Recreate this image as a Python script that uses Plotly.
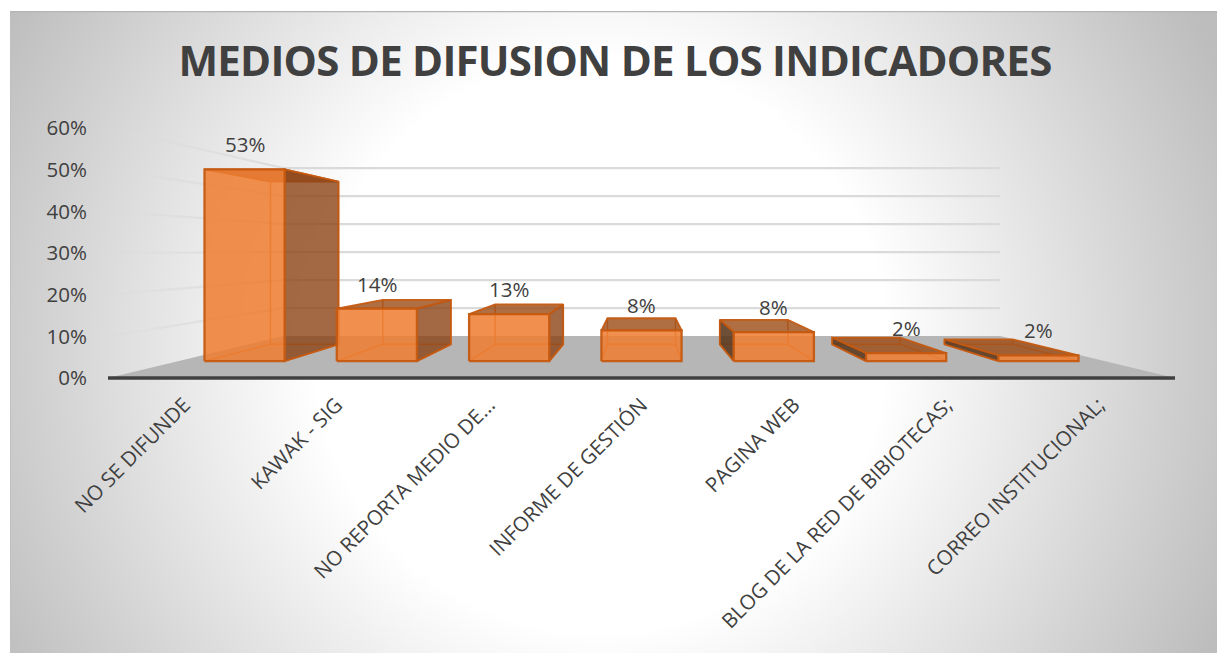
import base64
import plotly.graph_objects as go

# ---- data ----
categories = ["NO SE DIFUNDE", "KAWAK - SIG", "NO REPORTA MEDIO DE...", "INFORME DE GESTIÓN",
              "PAGINA WEB", "BLOG DE LA RED DE BIBIOTECAS;", "CORREO INSTITUCIONAL;"]
values = [0.53, 0.145, 0.13, 0.085, 0.08, 0.022, 0.016]
labels = ["53%", "14%", "13%", "8%", "8%", "2%", "2%"]
y_ticks = [0, 0.1, 0.2, 0.3, 0.4, 0.5, 0.6]
title = "MEDIOS DE DIFUSION DE LOS INDICADORES"

# ---- 3D look: perspective factors applied in axis units ----
W, H = 1217, 653
L, R, T, B = 104, 1179, 128, 383
Y_MIN = -0.012             # a little room below 0% so the floor edge is not clipped
X_PAD = 4 / 152.4          # same at both ends of the category axis
CX, CY = 3.0, 0.307        # vanishing point, in axis units
S_FRONT, S_BAR_F, S_BAR_B, S_BACK = 1.0, 0.868, 0.737, 0.672
HALF = 0.303               # half bar width, in category units
INK = "#404040"
FONT = "Open Sans"


def proj(x, v, s):
    return CX + (x - CX) * s, CY + (v - CY) * s


def poly(fig, pts, fill=None, line=None, width=2):
    xs = [p[0] for p in pts]
    ys = [p[1] for p in pts]
    if fill:
        xs.append(xs[0]); ys.append(ys[0])
    fig.add_trace(go.Scatter(
        x=xs, y=ys, mode="lines",
        fill="toself" if fill else None,
        fillcolor=fill,
        line=dict(color=line or "rgba(0,0,0,0)", width=width if line else 0),
        hoverinfo="skip", showlegend=False, cliponaxis=False))


fig = go.Figure()

# floor
poly(fig, [proj(-0.5, 0, S_FRONT), proj(6.5, 0, S_FRONT), proj(6.5, 0, S_BACK), proj(-0.5, 0, S_BACK)],
     fill="#b6b6b6")
# front floor edge (category axis line)
poly(fig, [proj(-0.5, 0, S_FRONT), proj(6.5, 0, S_FRONT)], line=INK, width=3.6)

# back wall gridlines and fading side wall gridlines
for t in y_ticks[1:]:
    poly(fig, [proj(-0.5, t, S_BACK), proj(6.5, t, S_BACK)], line="#dadada", width=2.2)
    steps = 8
    for k in range(steps):
        a = S_FRONT + (S_BACK - S_FRONT) * k / steps
        b = S_FRONT + (S_BACK - S_FRONT) * (k + 1) / steps
        poly(fig, [proj(-0.5, t, a), proj(-0.5, t, b)],
             line=f"rgba(220,220,220,{0.3 + 0.7 * (k + 1) / steps:.2f})", width=2.2)

# bars
EDGE = "rgba(197,90,17,0.95)"
INNER = "rgba(232,112,32,0.9)"
for i, v in enumerate(values):
    x0, x1 = i - HALF, i + HALF
    fbl, fbr = proj(x0, 0, S_BAR_F), proj(x1, 0, S_BAR_F)
    ftl, ftr = proj(x0, v, S_BAR_F), proj(x1, v, S_BAR_F)
    bbl, bbr = proj(x0, 0, S_BAR_B), proj(x1, 0, S_BAR_B)
    btl, btr = proj(x0, v, S_BAR_B), proj(x1, v, S_BAR_B)
    # hidden edges
    poly(fig, [fbl, bbl, bbr, fbr], line=INNER, width=1.5)
    poly(fig, [bbl, btl], line=INNER, width=1.5)
    poly(fig, [bbr, btr], line=INNER, width=1.5)
    # top face
    poly(fig, [ftl, ftr, btr, btl], fill="rgba(155,75,20,0.8)", line=EDGE, width=1.8)
    # exposed side
    if i < 3:
        poly(fig, [fbr, ftr, btr, bbr], fill="rgba(140,68,22,0.8)", line=EDGE, width=1.8)
    elif i > 3:
        poly(fig, [fbl, ftl, btl, bbl], fill="rgba(90,55,28,0.88)", line=EDGE, width=1.8)
    # front face
    poly(fig, [fbl, fbr, ftr, ftl], fill="rgba(237,125,49,0.86)", line=EDGE, width=2.3)

# data labels sit above the front top edge of each bar
for i, (v, lab) in enumerate(zip(values, labels)):
    px, py = proj(i, v, S_BAR_F)
    fig.add_annotation(x=px, y=py, text=lab, showarrow=False, yshift=25,
                       font=dict(family=FONT, size=20.5, color=INK))

# radial background panel
svg = f"""<svg xmlns="http://www.w3.org/2000/svg" width="{W - 10}" height="{H - 11}">
<defs><radialGradient id="g" gradientUnits="userSpaceOnUse" cx="590" cy="335" r="680">
<stop offset="0.42" stop-color="#ffffff"/><stop offset="1" stop-color="#bdbdbd"/></radialGradient></defs>
<rect width="100%" height="100%" fill="url(#g)"/>
<path d="M0.5 {H} V0.5" fill="none" stroke="#c0c0c0" stroke-width="1"/>
<path d="M0 0.5 H{W}" fill="none" stroke="#b4b4b4" stroke-width="1.5"/></svg>"""
src = "data:image/svg+xml;base64," + base64.b64encode(svg.encode()).decode()
fig.add_layout_image(dict(source=src, xref="paper", yref="paper",
                          x=(10 - L) / (R - L), y=(B - 11) / (B - T),
                          sizex=(W - 10) / (R - L), sizey=(H - 11) / (B - T),
                          sizing="stretch", xanchor="left", yanchor="top", layer="below"))

fig.update_layout(
    width=W, height=H, autosize=False,
    margin=dict(l=L, r=W - R, t=T, b=H - B),
    paper_bgcolor="white", plot_bgcolor="rgba(0,0,0,0)",
    font=dict(family=FONT, color=INK),
    showlegend=False,
    title=dict(text=f"<b>{title}</b>", xref="paper", yref="container",
               x=(615 - L) / (R - L), xanchor="center", y=1 - 61 / H, yanchor="middle",
               font=dict(family=FONT, size=42, color=INK)),
    xaxis=dict(range=[-0.5 - X_PAD, 6.5 + X_PAD], tickmode="array", tickvals=list(range(len(categories))),
               ticktext=categories, tickangle=-45, showgrid=False, zeroline=False,
               showline=False, ticks="", ticklabelstandoff=5,
               tickfont=dict(family=FONT, size=20.5, color=INK)),
    yaxis=dict(range=[Y_MIN, 0.6], tickmode="array", tickvals=y_ticks, tickformat=".0%",
               showgrid=False, zeroline=False, showline=False, ticks="", ticklabelstandoff=16,
               tickfont=dict(family=FONT, size=20.5, color=INK)),
)

fig.write_html(
    "out.html",
    config={"displayModeBar": False},
    post_script="document.body.style.margin='0';"
                "document.querySelectorAll('.gtitle').forEach(function(t){t.style.letterSpacing='-0.75px';});",
)
